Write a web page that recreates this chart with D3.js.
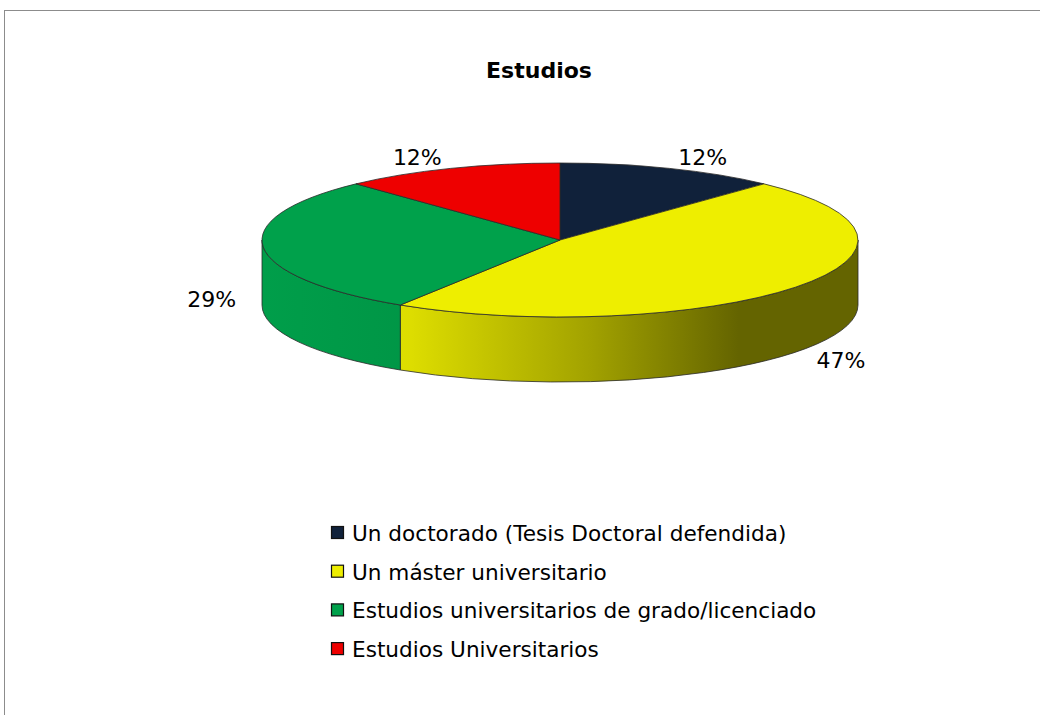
<!DOCTYPE html>
<html>
<head>
<meta charset="utf-8">
<script src="https://cdn.jsdelivr.net/npm/d3@7"></script>
<style>
  body { margin: 0; background: #fff; }
  svg { display: block; }
</style>
</head>
<body>
<svg id="chart" width="1040" height="715"></svg>
<script>
const categories = [
  "Un doctorado (Tesis Doctoral defendida)",
  "Un máster universitario",
  "Estudios universitarios de grado/licenciado",
  "Estudios Universitarios"
];
const values = [12, 47, 29, 12];
const colors = ["#10213a", "#eeee00", "#00a14b", "#ee0000"];

const svg = d3.select("#chart");
const font = "'DejaVu Sans', Verdana, sans-serif";

// chart frame
svg.append("rect")
  .attr("x", 4.5).attr("y", 10.5)
  .attr("width", 1100).attr("height", 800)
  .attr("fill", "#fff")
  .attr("stroke", "#8c8c8c");

svg.append("text")
  .attr("x", 539).attr("y", 78)
  .attr("text-anchor", "middle")
  .attr("font-family", font)
  .attr("font-weight", "bold")
  .attr("font-size", 22)
  .text("Estudios");

// 3D pie geometry
const cx = 560, cy = 240, rx = 298, ry = 77, depth = 65;

const pie = d3.pie().sort(null).value(d => d);
const arcs = pie(values);

function pt(a, dy = 0) {
  return [cx + rx * Math.sin(a), cy - ry * Math.cos(a) + dy];
}

function topPath(d) {
  const p0 = pt(d.startAngle), p1 = pt(d.endAngle);
  const large = d.endAngle - d.startAngle > Math.PI ? 1 : 0;
  return `M${cx},${cy}L${p0}A${rx},${ry} 0 ${large} 1 ${p1}Z`;
}

function sidePath(d) {
  const a0 = Math.max(d.startAngle, Math.PI / 2);
  const a1 = Math.min(d.endAngle, Math.PI * 1.5);
  if (a1 <= a0) return null;
  const p0 = pt(a0), p1 = pt(a1), q1 = pt(a1, depth), q0 = pt(a0, depth);
  return `M${p0}A${rx},${ry} 0 0 1 ${p1}L${q1}A${rx},${ry} 0 0 0 ${q0}Z`;
}

// side shading gradients
const defs = svg.append("defs");
const shade = [[0, 0.98], [0.25, 0.93], [0.55, 0.68], [0.8, 0.42], [1, 0.42]];
colors.forEach((c, i) => {
  const g = defs.append("linearGradient")
    .attr("id", "side" + i)
    .attr("gradientUnits", "userSpaceOnUse")
    .attr("x1", cx - rx).attr("x2", cx + rx)
    .attr("y1", 0).attr("y2", 0);
  const base = d3.rgb(c);
  shade.forEach(([o, f]) => {
    g.append("stop")
      .attr("offset", o)
      .attr("stop-color", d3.rgb(base.r * f, base.g * f, base.b * f).formatHex());
  });
});

const pieG = svg.append("g");

pieG.selectAll("path.side")
  .data(arcs.filter(d => sidePath(d)))
  .join("path")
  .attr("class", "side")
  .attr("d", sidePath)
  .attr("fill", d => `url(#side${d.index})`)
  .attr("stroke", "#2a2a2a")
  .attr("stroke-width", 0.8)
  .attr("stroke-linejoin", "round");

pieG.selectAll("path.top")
  .data(arcs)
  .join("path")
  .attr("class", "top")
  .attr("d", topPath)
  .attr("fill", (d, i) => colors[i])
  .attr("stroke", "#2a2a2a")
  .attr("stroke-width", 0.8)
  .attr("stroke-linejoin", "round");

// percentage labels
const total = d3.sum(values);
svg.append("g").selectAll("text")
  .data(arcs)
  .join("text")
  .attr("x", d => {
    const a = (d.startAngle + d.endAngle) / 2;
    return cx + rx * 1.1 * Math.sin(a) + 22 * Math.sign(Math.sin(a));
  })
  .attr("y", d => {
    const a = (d.startAngle + d.endAngle) / 2;
    const c = Math.cos(a);
    const base = cy - ry * 1.1 * c;
    return c >= 0 ? base - 4 : base + depth * (0.75 + 0.5 * -c);
  })
  .attr("text-anchor", "middle")
  .attr("dominant-baseline", "central")
  .attr("font-family", font)
  .attr("font-size", 22)
  .attr("fill", "#000")
  .text(d => Math.round(d.data / total * 100) + "%");

// legend
const legend = svg.append("g").attr("transform", "translate(331,533)");
const rows = legend.selectAll("g")
  .data(categories)
  .join("g")
  .attr("transform", (d, i) => `translate(0,${i * 38.7})`);

rows.append("rect")
  .attr("x", 0.5).attr("y", -6.5)
  .attr("width", 12).attr("height", 12)
  .attr("fill", (d, i) => colors[i])
  .attr("stroke", "#111")
  .attr("stroke-width", 1.2);

rows.append("text")
  .attr("x", 21).attr("y", 8)
  .attr("font-family", font)
  .attr("font-size", 21.6)
  .attr("fill", "#000")
  .text(d => d);
</script>
</body>
</html>
